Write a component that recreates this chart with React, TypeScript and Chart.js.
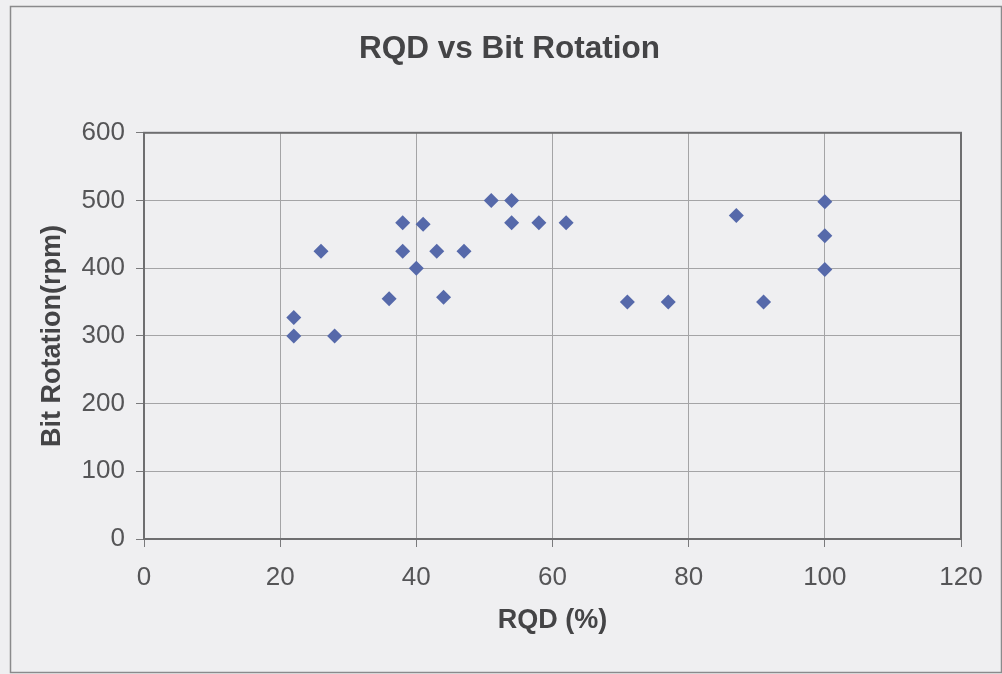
import React, { useEffect, useRef } from "react";
import { Chart, registerables } from "chart.js";

Chart.register(...registerables);

const rqdValues = [22, 22, 26, 28, 36, 38, 38, 40, 41, 43, 44, 47, 51, 54, 54, 58, 62, 71, 77, 87, 91, 100, 100, 100];
const rpmValues = [327, 300, 425, 300, 355, 467, 425, 400, 465, 425, 357, 425, 500, 500, 467, 467, 467, 350, 350, 478, 350, 498, 448, 398];
const xTicks = [0, 20, 40, 60, 80, 100, 120];
const yTicks = [0, 100, 200, 300, 400, 500, 600];

const FONT = "'Liberation Sans', Arial, sans-serif";

const frame = {
  id: "frame",
  beforeDraw(chart: any) {
    const ctx = chart.ctx;
    ctx.save();
    ctx.fillStyle = "#efeff1";
    ctx.fillRect(0, 0, chart.width, chart.height);
    ctx.strokeStyle = "#8a8a8c";
    ctx.lineWidth = 1.5;
    ctx.strokeRect(10.5, 6.5, chart.width - 11, chart.height - 8);
    ctx.restore();
  },
  beforeDatasetsDraw(chart: any) {
    const { ctx, chartArea } = chart;
    ctx.save();
    ctx.strokeStyle = "#6e6e70";
    ctx.lineWidth = 2;
    ctx.strokeRect(chartArea.left, chartArea.top, chartArea.right - chartArea.left, chartArea.bottom - chartArea.top);
    ctx.restore();
  },
};

export default function App() {
  const ref = useRef<HTMLCanvasElement>(null);
  useEffect(() => {
    document.body.style.margin = "0";
    const chart = new Chart(ref.current!, {
      type: "scatter",
      data: {
        datasets: [
          {
            data: rqdValues.map((x, i) => ({ x, y: rpmValues[i] })),
            pointStyle: "rectRot",
            pointRadius: 7.5,
            pointHoverRadius: 7.5,
            backgroundColor: "#5669aa",
            borderColor: "#5669aa",
            borderWidth: 0,
          },
        ],
      },
      options: {
        animation: false,
        responsive: false,
        events: [],
        layout: { padding: { left: 58, right: 41, top: 0, bottom: 0 } },
        plugins: {
          legend: { display: false },
          tooltip: { enabled: false },
          title: {
            display: true,
            text: "RQD vs Bit Rotation",
            color: "#444446",
            font: { family: FONT, size: 31.5, weight: "bold" },
            padding: { top: 30, bottom: 65 },
          },
        },
        scales: {
          x: {
            type: "linear",
            min: 0,
            max: 120,
            afterBuildTicks: (s: any) => {
              s.ticks = xTicks.map((v) => ({ value: v }));
            },
            afterFit: (s: any) => {
              s.height = 135;
            },
            ticks: { color: "#555557", padding: 15, font: { family: FONT, size: 26 } },
            grid: { color: "#a4a4a6", lineWidth: 1, tickLength: 8, tickColor: "#7a7a7c" },
            border: { display: false },
            title: {
              display: true,
              text: "RQD (%)",
              color: "#444446",
              font: { family: FONT, size: 27, weight: "bold" },
              padding: { top: 37, bottom: 37 },
            },
          },
          y: {
            type: "linear",
            min: 0,
            max: 600,
            afterBuildTicks: (s: any) => {
              s.ticks = yTicks.map((v) => ({ value: v }));
            },
            afterFit: (s: any) => {
              s.width = 86;
            },
            ticks: { color: "#555557", padding: 11, font: { family: FONT, size: 26 } },
            grid: { color: "#a4a4a6", lineWidth: 1, tickLength: 8, tickColor: "#7a7a7c" },
            border: { display: false },
            title: {
              display: true,
              text: "Bit Rotation(rpm)",
              color: "#444446",
              font: { family: FONT, size: 27, weight: "bold" },
              padding: { top: -22, bottom: 0 },
            },
          },
        },
      },
      plugins: [frame],
    });
    return () => chart.destroy();
  }, []);
  return <canvas ref={ref} width={1002} height={674} style={{ display: "block" }} />;
}
